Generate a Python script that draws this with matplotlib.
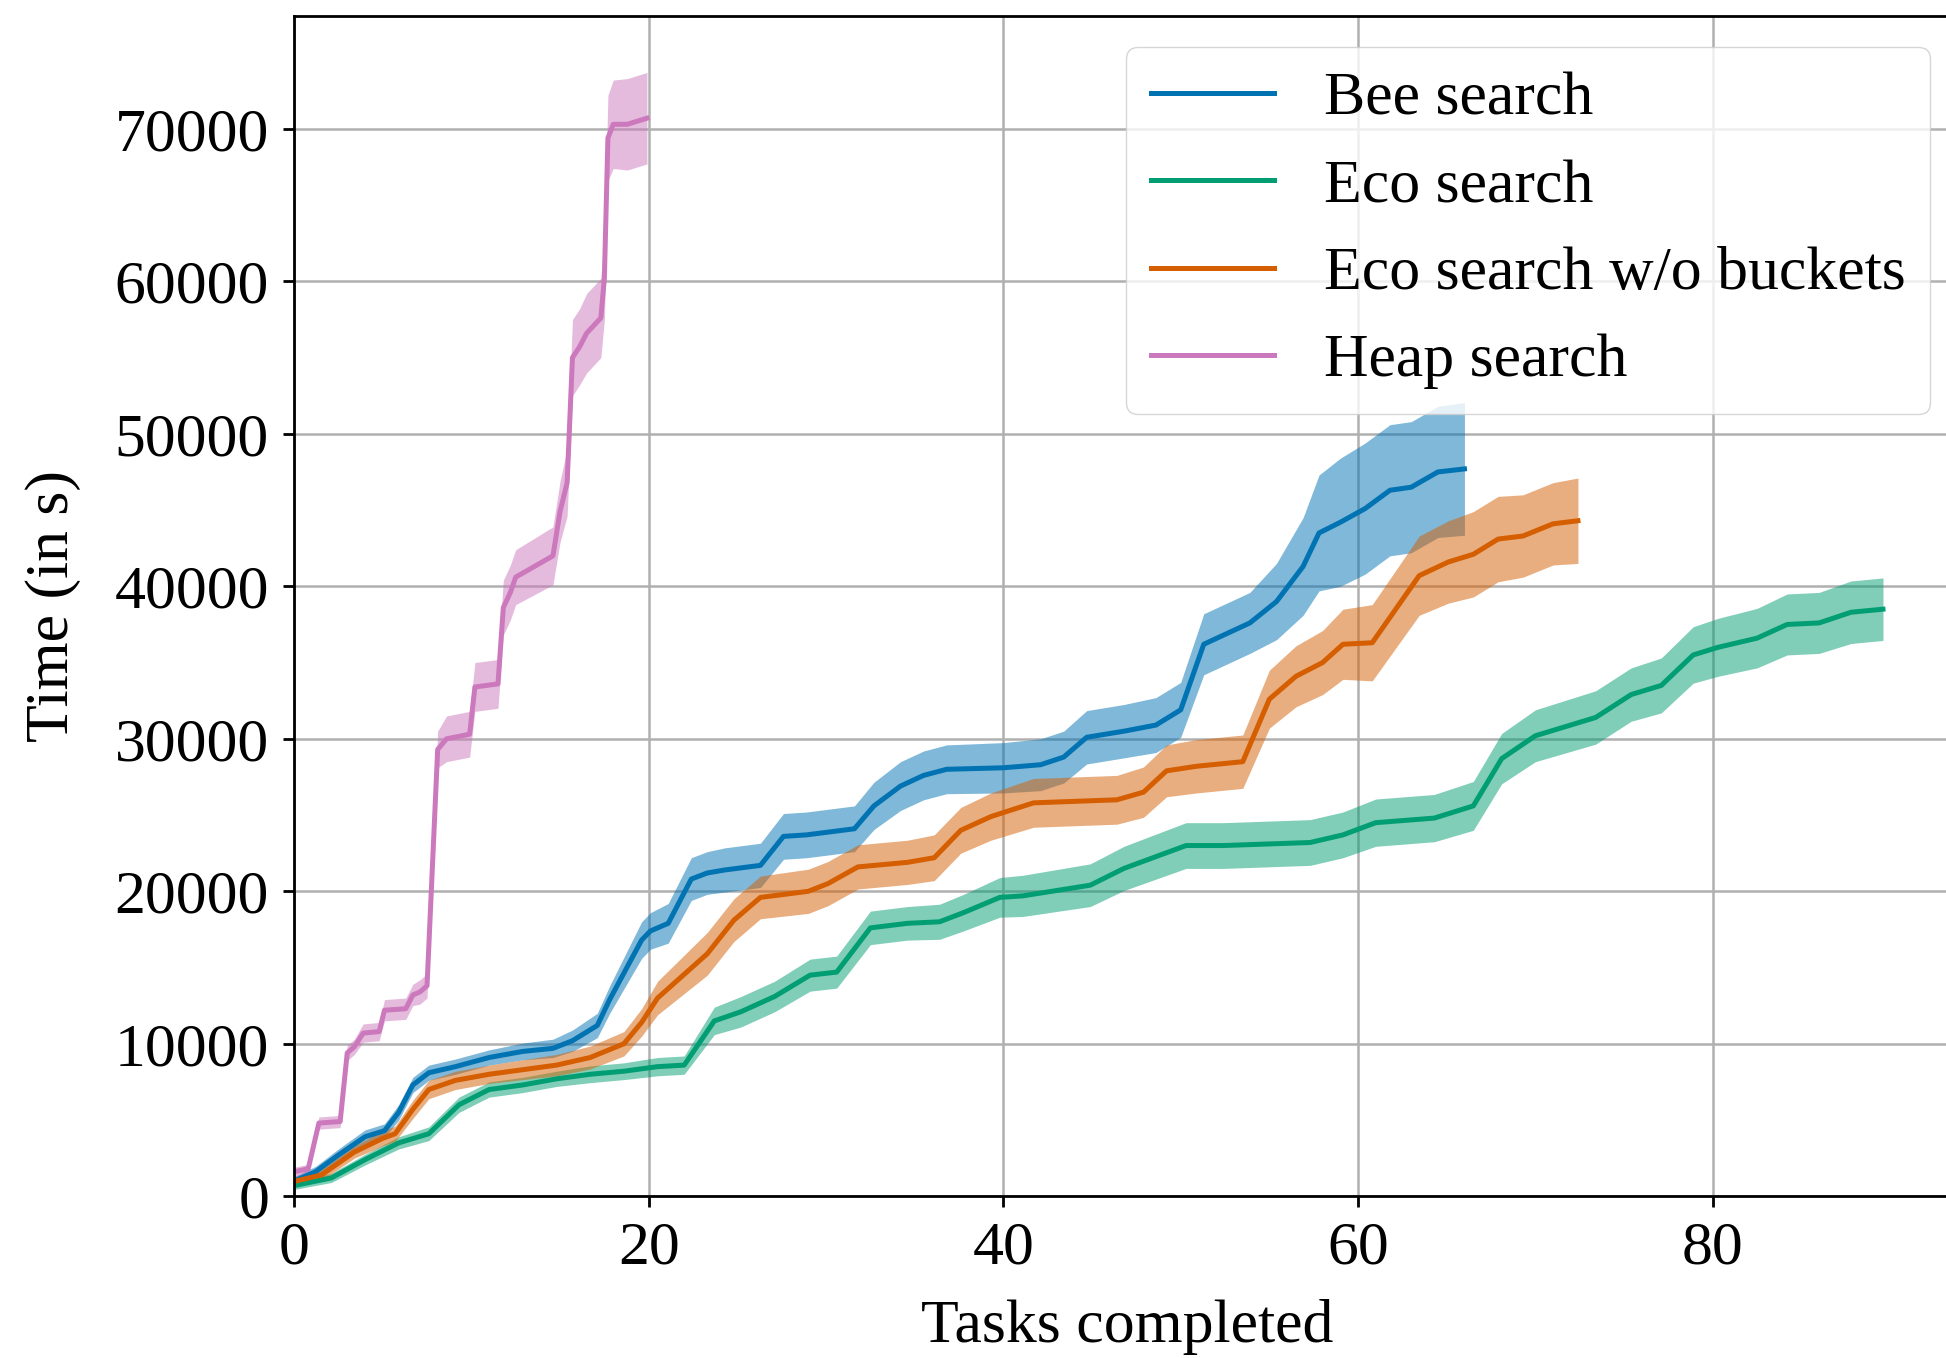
import matplotlib
matplotlib.use("Agg")
import matplotlib.pyplot as plt
import numpy as np

plt.rcParams['font.family'] = ['Liberation Serif', 'DejaVu Serif']
plt.rcParams['font.size'] = 44.5

# data: tasks completed (x), mean time (y), half-width of shaded band (hw)
bee_x = [0, 1.2, 2.5, 4.0, 5.1, 5.9, 6.7, 7.6, 9.1, 11.0, 12.9, 14.6, 15.7, 17.1, 17.8, 19.6, 20.1, 21.1, 22.4, 23.3,
         24.3, 26.3, 27.6, 28.9, 31.6, 32.7, 34.2, 35.5, 36.8, 40.0, 42.1, 43.4, 44.7, 46.8, 48.6, 50.0, 51.3, 53.9,
         55.4, 56.9, 57.8, 59.0, 60.4, 61.8, 63.0, 64.5, 66.0]
bee_y = [1000, 1600, 2700, 3900, 4300, 5500, 7300, 8100, 8500, 9100, 9500, 9700, 10200, 11200, 12900, 16800, 17400,
         17900, 20800, 21200, 21400, 21700, 23600, 23700, 24100, 25600, 26900, 27600, 28000, 28100, 28300, 28800,
         30100, 30500, 30900, 31900, 36200, 37600, 39000, 41300, 43500, 44200, 45100, 46300, 46500, 47500, 47700]
bee_hw = [300, 350, 400, 450, 450, 500, 500, 500, 500, 500, 550, 600, 700, 800, 900, 1200, 1200, 1300, 1400, 1400,
          1450, 1450, 1500, 1500, 1500, 1550, 1600, 1600, 1600, 1650, 1700, 1700, 1750, 1750, 1800, 1800, 2000, 2000,
          2500, 3200, 3800, 4200, 4300, 4300, 4300, 4300, 4350]

eco_x = [0, 2.1, 4.0, 5.9, 7.6, 9.3, 11.0, 12.9, 14.8, 16.7, 18.6, 20.5, 22.0, 23.7, 25.2, 27.1, 29.1, 30.6, 32.5,
         34.6, 36.4, 37.75, 39.8, 41.1, 44.9, 46.8, 50.3, 52.4, 57.3, 59.15, 61.0, 64.3, 66.5, 68.1, 70.0, 73.4, 75.4,
         77.1, 78.9, 80.3, 82.5, 84.2, 86.0, 87.8, 89.6]
eco_y = [700, 1200, 2400, 3500, 4100, 6000, 7000, 7300, 7700, 8000, 8200, 8500, 8600, 11500, 12100, 13100, 14500,
         14700, 17600, 17900, 18000, 18600, 19600, 19700, 20400, 21500, 23000, 23000, 23200, 23700, 24500, 24800,
         25600, 28700, 30200, 31400, 32900, 33500, 35500, 36000, 36600, 37500, 37600, 38300, 38500]
eco_hw = [250, 300, 350, 400, 450, 500, 500, 500, 500, 550, 550, 600, 600, 900, 1000, 1000, 1050, 1050, 1100, 1100,
          1150, 1200, 1300, 1350, 1400, 1450, 1500, 1500, 1500, 1500, 1550, 1550, 1600, 1650, 1700, 1750, 1750, 1800,
          1850, 1900, 1950, 2000, 2000, 2050, 2050]

nob_x = [0, 1.55, 3.4, 5.0, 5.7, 6.7, 7.6, 9.1, 11.0, 12.9, 14.8, 16.7, 18.6, 19.6, 20.5, 23.3, 24.8, 26.3, 29.0,
         30.1, 31.8, 34.6, 36.1, 37.6, 39.3, 41.7, 46.4, 47.9, 49.2, 50.9, 53.5, 55.0, 56.5, 58.0, 59.15, 60.8, 63.45,
         65.1, 66.5, 67.9, 69.3, 71.0, 72.4]
nob_y = [970, 1400, 2900, 3800, 4100, 5700, 7000, 7600, 8000, 8300, 8600, 9100, 10000, 11400, 13000, 15900, 18100,
         19600, 20000, 20500, 21600, 21900, 22200, 24000, 24900, 25800, 26000, 26500, 27900, 28200, 28500, 32600,
         34100, 35000, 36200, 36300, 40700, 41600, 42100, 43100, 43300, 44100, 44300]
nob_hw = [300, 350, 400, 500, 500, 600, 600, 600, 600, 650, 700, 750, 800, 900, 1100, 1400, 1400, 1400, 1450, 1450,
          1450, 1450, 1500, 1500, 1550, 1600, 1600, 1650, 1700, 1750, 1750, 1900, 2000, 2100, 2300, 2500, 2600, 2700,
          2800, 2800, 2700, 2700, 2800]

heap_x = [0, 0.8, 1.4, 2.6, 3.0, 3.4, 3.9, 4.8, 5.1, 6.3, 6.7, 7.1, 7.5, 8.1, 8.6, 9.9, 10.2, 11.5, 11.8, 12.2, 12.5,
          14.6, 15.0, 15.4, 15.7, 16.1, 16.5, 17.3, 17.5, 17.7, 18.0, 18.8, 19.9]
heap_y = [1600, 1800, 4800, 4900, 9400, 9800, 10700, 10800, 12200, 12300, 13200, 13400, 13800, 29300, 30000, 30300,
          33400, 33600, 38600, 39600, 40600, 42000, 44900, 46800, 55000, 55700, 56600, 57600, 60200, 69400, 70300,
          70300, 70700]
heap_hw = [300, 300, 400, 400, 500, 500, 600, 600, 700, 700, 700, 800, 800, 1200, 1500, 1500, 1600, 1600, 1800, 1800,
           1800, 1900, 2000, 2200, 2500, 2500, 2600, 2600, 2700, 2800, 2900, 3000, 3000]

series = [
    ('Bee search', bee_x, bee_y, bee_hw, '#0173B2'),
    ('Eco search', eco_x, eco_y, eco_hw, '#029E73'),
    ('Eco search w/o buckets', nob_x, nob_y, nob_hw, '#D55E00'),
    ('Heap search', heap_x, heap_y, heap_hw, '#CC78BC'),
]

fig = plt.figure(figsize=(19.46, 13.58), dpi=100)
ax = fig.add_axes([0.1511, 0.1191, 0.8566, 0.8691])

for name, x, y, hw, c in series:
    x = np.array(x)
    y = np.array(y)
    hw = np.array(hw)
    ax.fill_between(x, y - hw, y + hw, color=c, alpha=0.5, linewidth=0)
    ax.plot(x, y, color=c, linewidth=3.6, label=name)

ax.set_xlim(0, 94)
ax.set_ylim(0, 77400)
ax.set_xticks([0, 20, 40, 60, 80])
ax.set_yticks(range(0, 70001, 10000))
ax.grid(True, color='#b0b0b0', linewidth=1.8)
ax.set_axisbelow(True)
for s in ax.spines.values():
    s.set_linewidth(2)
ax.tick_params(length=8, width=2, pad=10)

ax.set_xlabel('Tasks completed', labelpad=16)
ax.set_ylabel('Time (in s)', labelpad=24)
ax.legend(loc='upper right', handlelength=2.0)

fig.savefig('out.png', dpi=100)
